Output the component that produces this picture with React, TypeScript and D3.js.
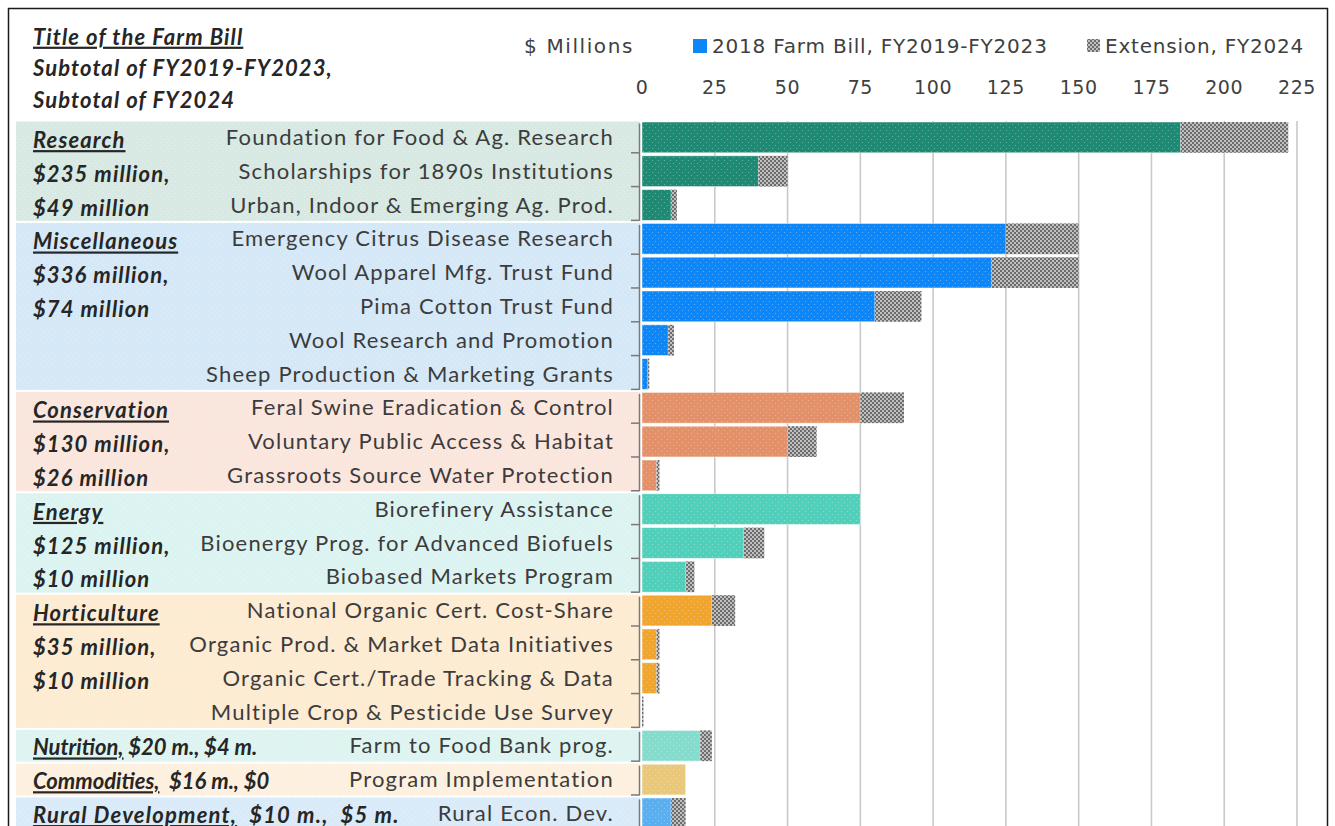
import React from "react";
import * as d3 from "d3";

// programs, top to bottom
const programs = [
  "Foundation for Food & Ag. Research",
  "Scholarships for 1890s Institutions",
  "Urban, Indoor & Emerging Ag. Prod.",
  "Emergency Citrus Disease Research",
  "Wool Apparel Mfg. Trust Fund",
  "Pima Cotton Trust Fund",
  "Wool Research and Promotion",
  "Sheep Production & Marketing Grants",
  "Feral Swine Eradication & Control",
  "Voluntary Public Access & Habitat",
  "Grassroots Source Water Protection",
  "Biorefinery Assistance",
  "Bioenergy Prog. for Advanced Biofuels",
  "Biobased Markets Program",
  "National Organic Cert. Cost-Share",
  "Organic Prod. & Market Data Initiatives",
  "Organic Cert./Trade Tracking & Data",
  "Multiple Crop & Pesticide Use Survey",
  "Farm to Food Bank prog.",
  "Program Implementation",
  "Rural Econ. Dev.",
];
const programGroup = [0, 0, 0, 1, 1, 1, 1, 1, 2, 2, 2, 3, 3, 3, 4, 4, 4, 4, 5, 6, 7];
const farmBill = [185, 40, 10, 125, 120, 80, 9, 2, 75, 50, 5, 75, 35, 15, 24, 5, 5, 0, 20, 15, 10];
const extension = [37, 10, 2, 25, 30, 16, 2, 0.5, 15, 10, 1, 0, 7, 3, 8, 1, 1, 0.5, 4, 0, 5];

const groupNames = ["Research", "Miscellaneous", "Conservation", "Energy", "Horticulture", "Nutrition,", "Commodities,", "Rural Development,"];
const groupSub1 = ["$235 million,", "$336 million,", "$130 million,", "$125 million,", "$35 million,", " $20 m.,", "  $16 m.,", "  $10 m.,"];
const groupSub2 = ["$49 million", "$74 million", "$26 million", "$10 million", "$10 million", " $4 m.", " $0", "  $5 m."];
const groupBar = ["#1f8a73", "#0d86f8", "#e49169", "#50d0ba", "#f1a52c", "#84dccc", "#e9c87a", "#5aaff0"];
const groupBand = ["#d7e9e2", "#d5e8f7", "#fbe6dd", "#dcf4f1", "#fdebd2", "#ddf4f1", "#fdf0df", "#d9eaf8"];

const xTicks = [0, 25, 50, 75, 100, 125, 150, 175, 200, 225];

const W = 1335;
const H = 840;
const labelFont = "Lato, 'Open Sans', sans-serif";
const axisFont = "'DejaVu Sans', Verdana, sans-serif";

const App = () => {
  const x = d3.scaleLinear().domain([0, 225]).range([642, 1297]);
  const y = d3
    .scaleBand()
    .domain(programs)
    .range([121, 121 + 33.75 * programs.length])
    .paddingInner(0.09)
    .paddingOuter(0.03);
  const step = y.step();

  // rows belonging to each group
  const groups = groupNames.map((g, gi) => {
    const rows = programs.filter((p, i) => programGroup[i] === gi);
    const top = (y(rows[0]) as number) - (step - y.bandwidth()) / 2;
    const bottom = top + rows.length * step;
    return { gi, rows, top, bottom };
  });

  const mid = (p: string) => (y(p) as number) + y.bandwidth() / 2;
  // single-line group labels are tighter for the short ones
  const oneLineSpacing = [0, 0, 0, 0, 0, 0, 0, 1.2];

  return (
    <svg width={W} height={H} style={{ position: "absolute", left: 0, top: 0 }}>
      <defs>
        <pattern id="ext" width="4" height="4" patternUnits="userSpaceOnUse">
          <rect width="4" height="4" fill="#6d6d6d" />
          <circle cx="1" cy="1" r="0.9" fill="#e8e8e8" />
          <circle cx="3" cy="3" r="0.9" fill="#e8e8e8" />
        </pattern>
        <pattern id="dots" width="6" height="6" patternUnits="userSpaceOnUse">
          <circle cx="1.5" cy="1.5" r="0.6" fill="#ffffff" opacity="0.35" />
          <circle cx="4.5" cy="4.5" r="0.6" fill="#ffffff" opacity="0.35" />
        </pattern>
      </defs>
      <rect x={0} y={0} width={W} height={H} fill="#fff" />

      {/* group background bands */}
      {groups.map(g => (
        <rect key={"band" + g.gi} x={16} y={g.top + 1} width={624} height={g.bottom - g.top - 2} fill={groupBand[g.gi]} />
      ))}
      {groups.map(g => (
        <rect key={"bandd" + g.gi} x={16} y={g.top + 1} width={624} height={g.bottom - g.top - 2} fill="url(#dots)" />
      ))}

      {/* gridlines */}
      {xTicks.slice(1).map(t => (
        <line key={"g" + t} x1={x(t)} x2={x(t)} y1={121} y2={H} stroke="#c9c9c9" strokeWidth={1.6} />
      ))}

      {/* bars */}
      {programs.map((p, i) => (
        <g key={"bar" + i}>
          {farmBill[i] > 0 && (
            <rect x={x(0)} y={y(p)} width={x(farmBill[i]) - x(0)} height={y.bandwidth()} fill={groupBar[programGroup[i]]} stroke="#ffffff" strokeOpacity={0.6} strokeWidth={0.8} />
          )}
          {farmBill[i] > 0 && (
            <rect x={x(0)} y={y(p)} width={x(farmBill[i]) - x(0)} height={y.bandwidth()} fill="url(#dots)" />
          )}
          {extension[i] > 0 && (
            <rect x={x(farmBill[i])} y={y(p)} width={x(farmBill[i] + extension[i]) - x(farmBill[i])} height={y.bandwidth()} fill="url(#ext)" />
          )}
        </g>
      ))}

      {/* category axis brackets */}
      {groups.map(g => (
        <g key={"ax" + g.gi} stroke="#7a7a7a" strokeWidth={1.5}>
          <line x1={639.5} x2={639.5} y1={g.top + 3} y2={g.bottom - 1} />
          {g.rows.map((p, k) => (
            <line key={k} x1={631} x2={639.5} y1={g.top + (k + 1) * step - 1.5} y2={g.top + (k + 1) * step - 1.5} />
          ))}
        </g>
      ))}

      {/* program labels */}
      {programs.map((p, i) => (
        <text key={"lbl" + i} x={614} y={mid(p)} dy="0.35em" textAnchor="end" fontFamily={labelFont} fontSize={22} letterSpacing={1.2} fill="#3c3c3c">
          {p}
        </text>
      ))}

      {/* group labels */}
      {groups.map(g => {
        const font = { fontFamily: labelFont, fontSize: 22, fontWeight: 700, fontStyle: "italic", fill: "#262626" } as const;
        if (g.rows.length === 1) {
          return (
            <text key={"gl" + g.gi} x={33} y={mid(g.rows[0]) + 2} dy="0.35em" {...font} letterSpacing={oneLineSpacing[g.gi]} xmlSpace="preserve">
              <tspan textDecoration="underline">{groupNames[g.gi]}</tspan>
              <tspan>{groupSub1[g.gi] + groupSub2[g.gi]}</tspan>
            </text>
          );
        }
        return (
          <g key={"gl" + g.gi} letterSpacing={1.1}>
            <text x={33} y={mid(g.rows[0]) + 3} dy="0.35em" {...font} textDecoration="underline">{groupNames[g.gi]}</text>
            <text x={33} y={mid(g.rows[1]) + 3} dy="0.35em" {...font}>{groupSub1[g.gi]}</text>
            <text x={33} y={mid(g.rows[2]) + 3} dy="0.35em" {...font}>{groupSub2[g.gi]}</text>
          </g>
        );
      })}

      {/* header */}
      <g fontFamily={labelFont} fontSize={22} fontWeight={700} fontStyle="italic" fill="#262626" letterSpacing={1.1}>
        <text x={33} y={37} dy="0.35em" textDecoration="underline">Title of the Farm Bill</text>
        <text x={33} y={68} dy="0.35em">Subtotal of FY2019-FY2023,</text>
        <text x={33} y={100} dy="0.35em">Subtotal of FY2024</text>
      </g>

      {/* x axis labels */}
      {xTicks.map(t => (
        <text key={"t" + t} x={x(t)} y={87} dy="0.35em" textAnchor="middle" fontFamily={axisFont} fontSize={19} letterSpacing={0.6} fill="#404040">
          {t}
        </text>
      ))}

      {/* unit + legend */}
      <text x={634} y={46} dy="0.35em" textAnchor="end" fontFamily={axisFont} fontSize={20} letterSpacing={1.6} fill="#404040">$ Millions</text>
      <rect x={693} y={39} width={14} height={14} fill={groupBar[1]} />
      <text x={712} y={46} dy="0.35em" fontFamily={axisFont} fontSize={20} letterSpacing={0.8} fill="#404040">2018 Farm Bill, FY2019-FY2023</text>
      <rect x={1087} y={39} width={13} height={13} fill="url(#ext)" />
      <text x={1105} y={46} dy="0.35em" fontFamily={axisFont} fontSize={20} letterSpacing={0.8} fill="#404040">Extension, FY2024</text>

      {/* chart border */}
      <rect x={8.5} y={8.5} width={1319} height={H} fill="none" stroke="#1a1a1a" strokeWidth={1.5} />
    </svg>
  );
};

export default App;
